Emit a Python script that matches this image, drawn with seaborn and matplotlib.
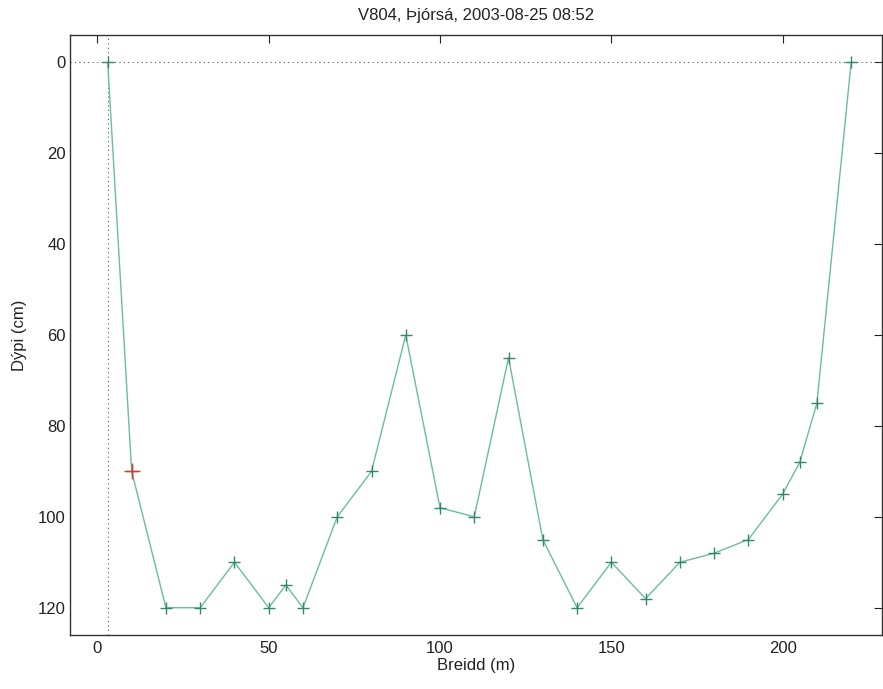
import matplotlib
matplotlib.use("Agg")
import matplotlib.pyplot as plt
import seaborn as sns
import pandas as pd

# Data
breidd = [3, 10, 20, 30, 40, 50, 55, 60, 70, 80, 90, 100, 110, 120, 130, 140,
          150, 160, 170, 180, 190, 200, 205, 210, 220]
dypi = [0, 90, 120, 120, 110, 120, 115, 120, 100, 90, 60, 98, 100, 65, 105, 120,
        110, 118, 110, 108, 105, 95, 88, 75, 0]
marked_x = [10]
marked_y = [90]
edge_x = 3
surface_y = 0
x_ticks = [0, 50, 100, 150, 200]
y_ticks = [0, 20, 40, 60, 80, 100, 120]

sns.set_theme(style="white")
plt.rcParams['font.family'] = ['Liberation Sans', 'DejaVu Sans']

df = pd.DataFrame({"Breidd": breidd, "Dypi": dypi})

fig = plt.figure(figsize=(8.83, 6.89), dpi=100)
ax = fig.add_axes([70/883, 1-635/689, (882-70)/883, (635-35)/689])

ax.axhline(surface_y, color="#555555", linestyle=(0, (1, 3)), linewidth=0.8, zorder=1)
ax.axvline(edge_x, color="#555555", linestyle=(0, (1, 3)), linewidth=0.8, zorder=1)

sns.lineplot(data=df, x="Breidd", y="Dypi", sort=False, ax=ax, color="#6cbaa8",
             linewidth=1.0, marker="+", markersize=9, markeredgewidth=1.0,
             markeredgecolor="#35876c", zorder=3)
sns.scatterplot(x=marked_x, y=marked_y, ax=ax, marker="+", s=130, color="#e8302c",
                linewidth=1.0, zorder=4)

ax.set_xlim(-8, 229)
ax.set_ylim(126, -6)
ax.set_xticks(x_ticks)
ax.set_yticks(y_ticks)
ax.tick_params(direction="in", length=6, width=0.8, top=True, right=True,
               labeltop=False, labelright=False, labelsize=12, colors="#222222")
ax.tick_params(axis="y", pad=3)
ax.tick_params(axis="x", pad=4)
for s in ax.spines.values():
    s.set_color("#333333")
    s.set_linewidth(1.0)

ax.set_title("V804, Þjórsá, 2003-08-25 08:52", fontsize=12, color="#222222", pad=11)
ax.set_xlabel("Breidd (m)", fontsize=12, color="#222222", labelpad=2)
ax.set_ylabel("Dýpi (cm)", fontsize=12, color="#222222", labelpad=8)

fig.savefig("out.png", dpi=100, facecolor="white")
